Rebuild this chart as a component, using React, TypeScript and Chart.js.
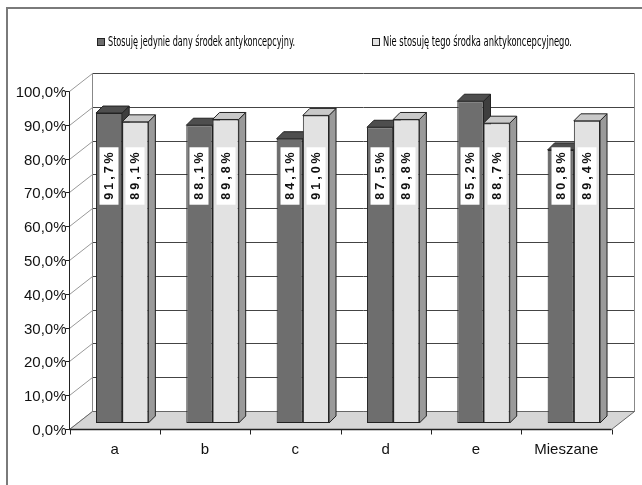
import React, { useEffect, useRef } from "react";
import { Chart, registerables } from "chart.js";

Chart.register(...registerables);

const categories = ["a", "b", "c", "d", "e", "Mieszane"];
const seriesNames = [
  "Stosuję jedynie dany środek antykoncepcyjny.",
  "Nie stosuję tego środka anktykoncepcyjnego.",
];
const usingOnly = [91.7, 88.1, 84.1, 87.5, 95.2, 80.8];
const notUsing = [89.1, 89.8, 91.0, 89.8, 88.7, 89.4];
const yTicks = [0, 10, 20, 30, 40, 50, 60, 70, 80, 90, 100];

const DARK_FRONT = "#6e6e6e";
const DARK_TOP = "#4e4e4e";
const DARK_SIDE = "#3e3e3e";
const LIGHT_FRONT = "#e2e2e2";
const LIGHT_TOP = "#c9c9c9";
const LIGHT_SIDE = "#9a9a9a";
const LINE = "#222";

const fmt = (v: number) => v.toFixed(1).replace(".", ",") + "%";

const FX = -8, FY = 6; // front plane offset from bar plane
const DX = 23, DY = -18; // depth of the walls
const BD = 7; // bar depth

function drawBar3D(ctx: CanvasRenderingContext2D, el: any, top: string, side: string) {
  const x1 = el.x - el.width / 2;
  const x2 = el.x + el.width / 2;
  const yt = el.y;
  const yb = el.base;
  ctx.save();
  ctx.lineWidth = 1;
  ctx.strokeStyle = LINE;
  ctx.lineJoin = "round";
  ctx.beginPath();
  ctx.moveTo(x2, yt);
  ctx.lineTo(x2 + BD, yt - BD);
  ctx.lineTo(x2 + BD, yb - BD);
  ctx.lineTo(x2, yb);
  ctx.closePath();
  ctx.fillStyle = side;
  ctx.fill();
  ctx.stroke();
  ctx.beginPath();
  ctx.moveTo(x1, yt);
  ctx.lineTo(x2, yt);
  ctx.lineTo(x2 + BD, yt - BD);
  ctx.lineTo(x1 + BD, yt - BD);
  ctx.closePath();
  ctx.fillStyle = top;
  ctx.fill();
  ctx.stroke();
  ctx.restore();
}

const threeD = {
  id: "threeD",
  beforeDraw(chart: any) {
    const ctx: CanvasRenderingContext2D = chart.ctx;
    ctx.save();
    ctx.strokeStyle = "#7a7a7a";
    ctx.lineWidth = 2;
    ctx.beginPath();
    ctx.moveTo(7, 485);
    ctx.lineTo(7, 8);
    ctx.lineTo(642, 8);
    ctx.stroke();

    const fontStack = "14px 'Liberation Sans Narrow', 'DejaVu Sans Condensed', 'Liberation Sans', sans-serif";
    const items = [
      { sx: 97, tx: 108, tw: 187, color: DARK_FRONT, label: seriesNames[0] },
      { sx: 372, tx: 383, tw: 189, color: LIGHT_FRONT, label: seriesNames[1] },
    ];
    for (const it of items) {
      ctx.fillStyle = it.color;
      ctx.fillRect(it.sx, 38, 8, 8);
      ctx.lineWidth = 1;
      ctx.strokeStyle = LINE;
      ctx.strokeRect(it.sx + 0.5, 38.5, 7, 7);
      ctx.font = fontStack;
      ctx.fillStyle = "#000";
      ctx.textAlign = "left";
      ctx.textBaseline = "alphabetic";
      const w = ctx.measureText(it.label).width;
      ctx.save();
      ctx.translate(it.tx, 46);
      ctx.scale(it.tw / w, 1);
      ctx.fillText(it.label, 0, 0);
      ctx.restore();
    }
    ctx.restore();
  },
  beforeDatasetsDraw(chart: any) {
    const ctx: CanvasRenderingContext2D = chart.ctx;
    const ca = chart.chartArea;
    const y = chart.scales.y;
    const fl = Math.round(ca.left + FX) + 0.5;
    const fr = Math.round(ca.right + FX) + 0.5;
    const yF = (v: number) => Math.round(y.getPixelForValue(v) + FY) + 0.5;
    const bl = fl + DX, br = fr + DX;
    const yB = (v: number) => yF(v) + DY;
    ctx.save();
    ctx.lineWidth = 1;

    ctx.strokeStyle = "#444";
    for (const v of yTicks) {
      ctx.beginPath();
      ctx.moveTo(bl, yB(v));
      ctx.lineTo(br, yB(v));
      ctx.stroke();
    }
    ctx.strokeStyle = "#888";
    ctx.beginPath();
    ctx.moveTo(bl, yB(0));
    ctx.lineTo(bl, yB(100));
    ctx.moveTo(br, yB(0));
    ctx.lineTo(br, yB(100));
    ctx.stroke();

    ctx.strokeStyle = "#999";
    for (const v of yTicks) {
      ctx.beginPath();
      ctx.moveTo(fl, yF(v));
      ctx.lineTo(bl, yB(v));
      ctx.stroke();
    }

    ctx.beginPath();
    ctx.moveTo(fl, yF(0));
    ctx.lineTo(fr, yF(0));
    ctx.lineTo(br, yB(0));
    ctx.lineTo(bl, yB(0));
    ctx.closePath();
    ctx.fillStyle = "#d6d6d6";
    ctx.fill();
    ctx.strokeStyle = "#666";
    ctx.stroke();
    ctx.strokeStyle = LINE;
    ctx.lineWidth = 1.5;
    ctx.beginPath();
    ctx.moveTo(fl, yF(0));
    ctx.lineTo(fr, yF(0));
    ctx.stroke();
    ctx.lineWidth = 1;

    ctx.strokeStyle = LINE;
    ctx.beginPath();
    ctx.moveTo(fl, yF(0));
    ctx.lineTo(fl, yF(100));
    ctx.stroke();
    ctx.font = "15px 'Liberation Sans', Arial, sans-serif";
    ctx.fillStyle = "#111";
    ctx.textAlign = "right";
    ctx.textBaseline = "middle";
    for (const v of yTicks) {
      ctx.beginPath();
      ctx.moveTo(fl - 4, yF(v));
      ctx.lineTo(fl, yF(v));
      ctx.stroke();
      ctx.fillText(fmt(v), fl - 3, yF(v) + 1);
    }

    const n = categories.length;
    const step = (fr - fl) / n;
    ctx.textAlign = "center";
    for (let i = 0; i <= n; i++) {
      const xx = Math.round(fl + i * step) + 0.5;
      ctx.beginPath();
      ctx.moveTo(xx, yF(0));
      ctx.lineTo(xx, yF(0) + 5);
      ctx.stroke();
    }
    for (let i = 0; i < n; i++) {
      ctx.fillText(categories[i], fl + (i + 0.5) * step, yF(0) + 20);
    }

    const meta0 = chart.getDatasetMeta(0);
    for (const el of meta0.data) drawBar3D(ctx, el, DARK_TOP, DARK_SIDE);
    ctx.restore();
  },
  afterDatasetsDraw(chart: any) {
    const ctx: CanvasRenderingContext2D = chart.ctx;
    const y = chart.scales.y;
    const meta1 = chart.getDatasetMeta(1);
    for (const el of meta1.data) drawBar3D(ctx, el, LIGHT_TOP, LIGHT_SIDE);

    ctx.save();
    const sets = [usingOnly, notUsing];
    const cy = y.getPixelForValue(73);
    ctx.font = "bold 12.5px 'Liberation Sans', Arial, sans-serif";
    (ctx as any).letterSpacing = "3px";
    ctx.textAlign = "center";
    ctx.textBaseline = "middle";
    sets.forEach((vals, di) => {
      const meta = chart.getDatasetMeta(di);
      meta.data.forEach((el: any, i: number) => {
        const txt = fmt(vals[i]);
        const w = ctx.measureText(txt).width - 3;
        const h = w + 10;
        ctx.save();
        ctx.translate(Math.round(el.x), Math.round(cy));
        ctx.rotate(-Math.PI / 2);
        ctx.fillStyle = "#fff";
        ctx.fillRect(-h / 2, -9.5, h, 19);
        ctx.fillStyle = "#111";
        ctx.fillText(txt, 1.5, 1);
        ctx.restore();
      });
    });
    ctx.restore();
  },
};

export default function App() {
  const ref = useRef<HTMLCanvasElement | null>(null);
  useEffect(() => {
    if (!ref.current) return;
    const chart = new Chart(ref.current, {
      type: "bar",
      data: {
        labels: categories,
        datasets: [
          {
            label: seriesNames[0],
            data: usingOnly,
            backgroundColor: DARK_FRONT,
            borderColor: LINE,
            borderWidth: 1,
            borderSkipped: false,
            categoryPercentage: 0.58,
            barPercentage: 1,
          },
          {
            label: seriesNames[1],
            data: notUsing,
            backgroundColor: LIGHT_FRONT,
            borderColor: LINE,
            borderWidth: 1,
            borderSkipped: false,
            categoryPercentage: 0.58,
            barPercentage: 1,
          },
        ],
      },
      options: {
        responsive: false,
        animation: false,
        devicePixelRatio: 1,
        layout: { padding: { left: 77, right: 23, top: 85, bottom: 62 } },
        scales: {
          x: { display: false, offset: true },
          y: { display: false, min: 0, max: 100 },
        },
        plugins: {
          legend: { display: false },
          tooltip: { enabled: false },
        },
      },
      plugins: [threeD],
    } as any);
    return () => chart.destroy();
  }, []);
  return (
    <div style={{ position: "fixed", left: 0, top: 0, width: 642, height: 485, background: "#fff" }}>
      <canvas ref={ref} width={642} height={485} style={{ display: "block" }} />
    </div>
  );
}
